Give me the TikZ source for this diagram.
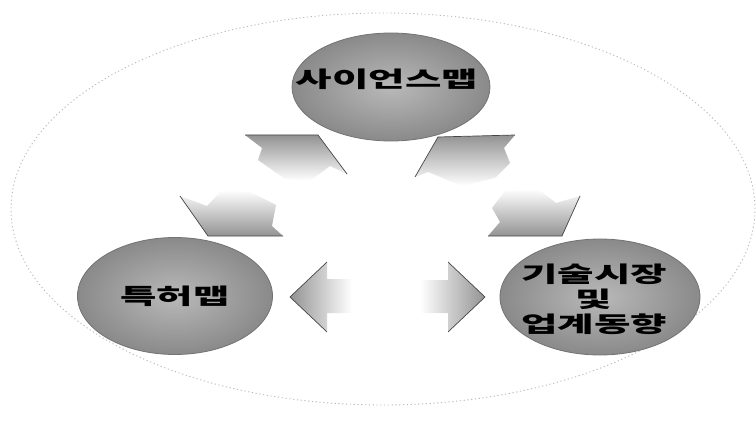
\documentclass[tikz,border=0pt]{standalone}
\usepackage{fontspec}
\newfontfamily\krfont[FakeStretch=1.8]{Noto Sans CJK KR}
\usepackage{tikz}
\usetikzlibrary{shapes.geometric}

\begin{document}
\begin{tikzpicture}[x=1pt, y=-1pt,
    font=\krfont\bfseries\fontsize{22}{25}\selectfont,
    bubble/.style={ ellipse, draw=gray!90!black, line width=0.8pt, inner
        color=gray!55, outer color=gray!92, minimum width=198pt, minimum
        height=108pt, inner sep=0pt },
    ring/.style={ draw=gray!55, line width=0.9pt, dash pattern=on 1.2pt off
        2.6pt },
    edge/.style={ draw=gray!55!black, line width=0.7pt } ]

    \useasboundingbox (0,0) rectangle (756,428);

    % faint outer ring
    \draw[ring] (383,209) ellipse [x radius=372pt, y radius=196pt];

    \node[bubble, label={[xshift=-4pt, yshift=8pt]center:사이언스맵}]
    (science) at (391,87) {}; \node[bubble, minimum width=195pt, minimum
    height=117pt, label={center:특허맵}] (patent) at (175,296) {};
    \node[bubble, minimum width=200pt, minimum height=116pt,
    label={[align=center, xshift=-6pt, yshift=-2pt]center:기술시장\\및\\업계동향}]
    (market) at (600,297) {};

    % arrows between science and patent
    \shade[top color=gray!85, bottom color=white] (245,135) -- (318,135) --
    (347,174) -- (330,166) -- (310,181) -- (285,179) -- (258,160) --
    (262,148) -- cycle; \draw[edge] (245,135) -- (318,135) -- (347,174);

    \shade[top color=white, bottom color=gray!85] (180,196) -- (207,206) --
    (222,190) -- (250,192) -- (276,205) -- (272,226) -- (283,236) --
    (208,236) -- cycle; \draw[edge] (180,196) -- (208,236) -- (283,236);

    % arrows between science and market
    \shade[top color=gray!85, bottom color=white] (515,135) -- (438,137) --
    (415,177) -- (428,172) -- (462,186) -- (495,178) -- (510,163) --
    (504,148) -- cycle; \draw[edge] (515,135) -- (438,137) -- (415,177);

    \shade[top color=white, bottom color=gray!85] (580,196) -- (562,236) --
    (488,236) -- (500,222) -- (492,208) -- (505,191) -- (538,189) --
    (556,203) -- cycle; \draw[edge] (580,196) -- (562,236) -- (488,236);

    % arrows between patent and market
    \shade[left color=gray!85, right color=white] (290,297) -- (327,262) --
    (327,279) -- (352,279) -- (352,313) -- (327,313) -- (327,332) -- cycle;
    \draw[edge] (327,262) -- (290,297) -- (327,332);

    \shade[left color=white, right color=gray!85] (485,297) -- (448,262) --
    (448,280) -- (420,280) -- (420,313) -- (448,313) -- (448,332) -- cycle;
    \draw[edge] (448,262) -- (485,297) -- (448,332);

  \end{tikzpicture}
\end{document}
